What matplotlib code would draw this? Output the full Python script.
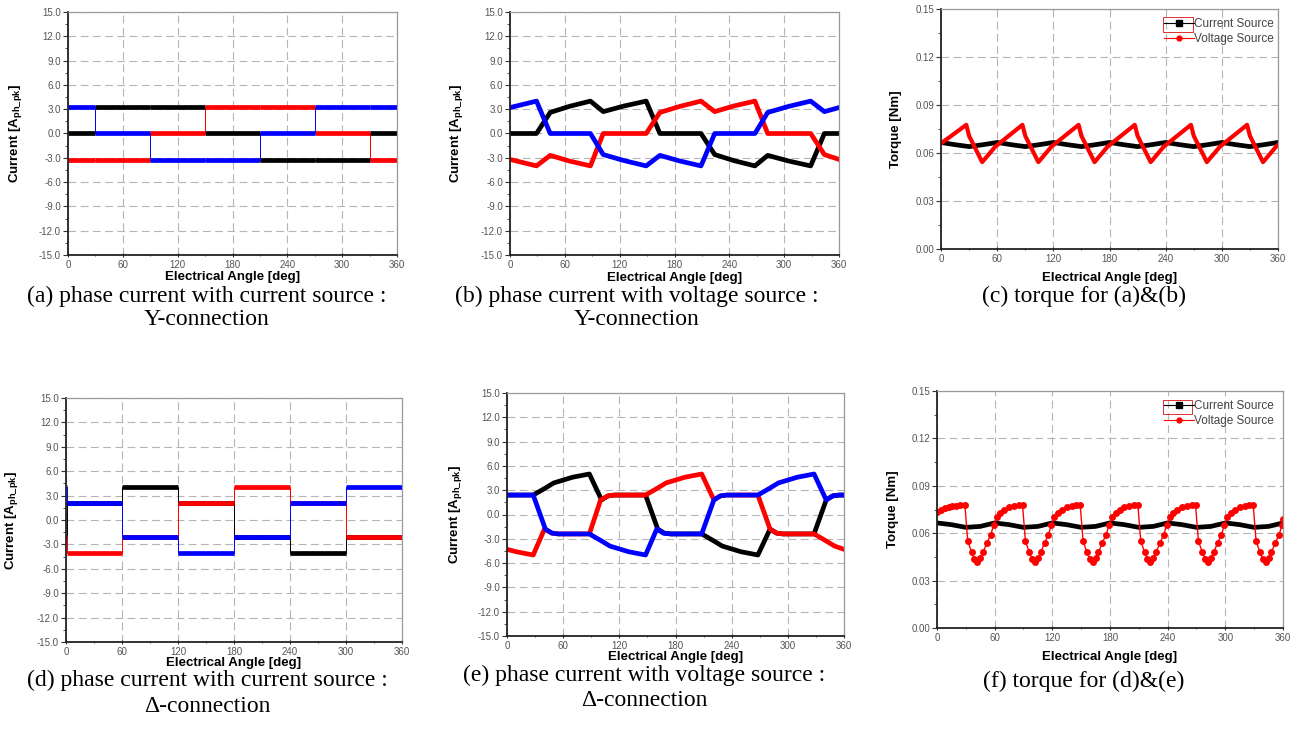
import matplotlib
matplotlib.use("Agg")
import matplotlib.pyplot as plt
from matplotlib.patches import Rectangle
from matplotlib.lines import Line2D
from matplotlib.ticker import MultipleLocator, FormatStrFormatter

plt.rcParams["font.family"] = ["Liberation Sans", "DejaVu Sans"]

BLACK = "#000000"
RED = "#ff0000"
BLUE = "#0000ff"

# (a) Y-connection, current source: square levels per interval
A_EDGES = [0, 30, 90, 150, 210, 270, 330, 360]
A_BLACK = [0.0, 3.3, 3.3, 0.0, -3.3, -3.3, 0.0]
A_BLUE = [3.3, 0.0, -3.3, -3.3, 0.0, 3.3, 3.3]
A_RED = [-3.3, -3.3, 0.0, 3.3, 3.3, 0.0, -3.3]

# (d) delta-connection, current source
D_EDGES = [0, 1.5, 60, 120, 180, 240, 300, 360]
D_BLACK = [-2.05, 2.05, 4.1, 2.05, -2.05, -4.1, -2.05]
D_RED = [-2.05, -4.1, -2.05, 2.05, 4.1, 2.05, -2.05]
D_BLUE = [4.1, 2.05, -2.05, -4.1, -2.05, 2.05, 4.1]

# (b) Y-connection, voltage source (waveform corners)
B_BLACK_DEG = [0, 29, 44, 65, 88, 102, 125, 149, 164, 209, 224, 245, 268, 282, 305, 329, 344, 360]
B_BLACK = [0.0, 0.0, 2.6, 3.35, 4.0, 2.7, 3.4, 4.0, 0.0, 0.0, -2.6, -3.35, -4.0, -2.7, -3.4, -4.0, 0.0, 0.0]
B_BLUE_DEG = [0, 29, 44, 88, 102, 125, 149, 164, 186, 209, 224, 268, 282, 305, 329, 344, 360]
B_BLUE = [3.2, 4.0, 0.0, 0.0, -2.6, -3.35, -4.0, -2.7, -3.4, -4.0, 0.0, 0.0, 2.6, 3.35, 4.0, 2.7, 3.2]
B_RED_DEG = [0, 29, 44, 65, 88, 102, 149, 164, 186, 209, 224, 245, 268, 282, 329, 344, 360]
B_RED = [-3.2, -4.0, -2.7, -3.4, -4.0, 0.0, 0.0, 2.6, 3.35, 4.0, 2.7, 3.4, 4.0, 0.0, 0.0, -2.6, -3.2]

# (e) delta-connection, voltage source (waveform corners)
E_BLACK_DEG = [0, 28, 40, 50, 70, 88, 101, 108, 115, 148, 161, 168, 175, 208,
               220, 230, 250, 268, 281, 288, 295, 328, 341, 348, 355, 360]
E_BLACK = [2.4, 2.4, 3.2, 3.9, 4.6, 5.0, 1.8, 2.3, 2.4, 2.4, -1.8, -2.3, -2.4, -2.4,
           -3.2, -3.9, -4.6, -5.0, -1.8, -2.3, -2.4, -2.4, 1.8, 2.3, 2.4, 2.4]
E_RED_DEG = [0, 10, 28, 40, 48, 55, 88, 100, 108, 115, 148, 160, 170, 190, 208,
             221, 228, 235, 268, 281, 288, 295, 328, 340, 350, 360]
E_RED = [-4.3, -4.6, -5.0, -1.8, -2.3, -2.4, -2.4, 1.8, 2.3, 2.4, 2.4, 3.2, 3.9, 4.6, 5.0,
         1.8, 2.3, 2.4, 2.4, -1.8, -2.3, -2.4, -2.4, -3.2, -3.9, -4.3]
E_BLUE_DEG = [0, 28, 41, 48, 55, 88, 100, 110, 130, 148, 160, 167, 175, 208,
              221, 228, 235, 268, 280, 290, 310, 328, 341, 348, 355, 360]
E_BLUE = [2.4, 2.4, -1.8, -2.3, -2.4, -2.4, -3.2, -3.9, -4.6, -5.0, -1.8, -2.3, -2.4, -2.4,
          1.8, 2.3, 2.4, 2.4, 3.2, 3.9, 4.6, 5.0, 1.8, 2.3, 2.4, 2.4]

# (c) torque for (a)&(b)
C_CUR_DEG = list(range(0, 361, 15))
C_CUR = [0.0666, 0.0652, 0.0640, 0.0652, 0.0666, 0.0652, 0.0640, 0.0652,
         0.0666, 0.0652, 0.0640, 0.0652, 0.0666, 0.0652, 0.0640, 0.0652,
         0.0666, 0.0652, 0.0640, 0.0652, 0.0666, 0.0652, 0.0640, 0.0652, 0.0666]
C_VOLT_DEG = [0, 27, 30, 44, 58, 87, 90, 104, 118, 147, 150, 164, 178, 207, 210,
              224, 238, 267, 270, 284, 298, 327, 330, 344, 358, 360]
C_VOLT = [0.0660, 0.0776, 0.0707, 0.0543, 0.0640, 0.0776, 0.0707, 0.0543, 0.0640,
          0.0776, 0.0707, 0.0543, 0.0640, 0.0776, 0.0707, 0.0543, 0.0640, 0.0776,
          0.0707, 0.0543, 0.0640, 0.0776, 0.0707, 0.0543, 0.0640, 0.0650]

# (f) torque for (d)&(e)
F_CUR_DEG = list(range(0, 361, 15))
F_CUR = [0.0665, 0.0654, 0.0637, 0.0643, 0.0665, 0.0654, 0.0637, 0.0643,
         0.0665, 0.0654, 0.0637, 0.0643, 0.0665, 0.0654, 0.0637, 0.0643,
         0.0665, 0.0654, 0.0637, 0.0643, 0.0665, 0.0654, 0.0637, 0.0643, 0.0665]
F_VOLT_DEG = [0, 4, 8, 12, 16, 20, 24, 29,
              32, 36, 39, 42, 45, 48, 52, 56, 59, 62, 66, 70, 75, 80, 85, 89,
              92, 96, 99, 102, 105, 108, 112, 116, 119, 122, 126, 130, 135, 140, 145, 149,
              152, 156, 159, 162, 165, 168, 172, 176, 179, 182, 186, 190, 195, 200, 205, 209,
              212, 216, 219, 222, 225, 228, 232, 236, 239, 242, 246, 250, 255, 260, 265, 269,
              272, 276, 279, 282, 285, 288, 292, 296, 299, 302, 306, 310, 315, 320, 325, 329,
              332, 336, 339, 342, 345, 348, 352, 356, 359, 360]
F_VOLT = [0.0735, 0.0750, 0.0760, 0.0766, 0.0771, 0.0775, 0.0777, 0.0778,
          0.0550, 0.0480, 0.0435, 0.0420, 0.0440, 0.0480, 0.0540, 0.0590,
          0.0655, 0.0700, 0.0730, 0.0750, 0.0765, 0.0772, 0.0777, 0.0778,
          0.0550, 0.0480, 0.0435, 0.0420, 0.0440, 0.0480, 0.0540, 0.0590,
          0.0655, 0.0700, 0.0730, 0.0750, 0.0765, 0.0772, 0.0777, 0.0778,
          0.0550, 0.0480, 0.0435, 0.0420, 0.0440, 0.0480, 0.0540, 0.0590,
          0.0655, 0.0700, 0.0730, 0.0750, 0.0765, 0.0772, 0.0777, 0.0778,
          0.0550, 0.0480, 0.0435, 0.0420, 0.0440, 0.0480, 0.0540, 0.0590,
          0.0655, 0.0700, 0.0730, 0.0750, 0.0765, 0.0772, 0.0777, 0.0778,
          0.0550, 0.0480, 0.0435, 0.0420, 0.0440, 0.0480, 0.0540, 0.0590,
          0.0655, 0.0700, 0.0730, 0.0750, 0.0765, 0.0772, 0.0777, 0.0778,
          0.0550, 0.0480, 0.0435, 0.0420, 0.0440, 0.0480, 0.0540, 0.0590,
          0.0655, 0.0690]

CAPTIONS = [
    ("(a) phase current with current source :", "Y-connection"),
    ("(b) phase current with voltage source :", "Y-connection"),
    ("(c) torque for (a)&(b)", None),
    ("(d) phase current with current source :", "\u0394-connection"),
    ("(e) phase current with voltage source :", "\u0394-connection"),
    ("(f) torque for (d)&(e)", None),
]

W, H = 1300, 748
fig = plt.figure(figsize=(W / 100, H / 100), dpi=100)


def add_ax(left, right, top, bottom):
    return fig.add_axes([left / W, 1 - bottom / H, (right - left) / W, (bottom - top) / H])


def style(ax, current, ylab_x, xlab_y):
    ax.set_xlim(0, 360)
    ax.set_xticks(range(0, 361, 60))
    ax.xaxis.set_minor_locator(MultipleLocator(30))
    if current:
        ax.set_ylim(-15, 15)
        ax.yaxis.set_major_locator(MultipleLocator(3))
        ax.yaxis.set_minor_locator(MultipleLocator(1.5))
        ax.yaxis.set_major_formatter(FormatStrFormatter("%.1f"))
        ax.set_ylabel(r"Current [A$_{\mathregular{ph\_pk}}$]", fontsize=9.5, fontweight="bold")
    else:
        ax.set_ylim(0, 0.15)
        ax.yaxis.set_major_locator(MultipleLocator(0.03))
        ax.yaxis.set_minor_locator(MultipleLocator(0.015))
        ax.yaxis.set_major_formatter(FormatStrFormatter("%.2f"))
        ax.set_ylabel("Torque [Nm]", fontsize=9.5, fontweight="bold")
    ax.set_xlabel("Electrical Angle [deg]", fontsize=9.5, fontweight="bold")
    ax.yaxis.set_label_coords(ylab_x, 0.5)
    ax.xaxis.set_label_coords(0.5, xlab_y)
    ax.set_axisbelow(True)
    ax.grid(True, which="major", color="#b5b5b5", linestyle=(0, (7, 4)), linewidth=0.8)
    for side in ("left", "bottom"):
        ax.spines[side].set_color("#222222")
        ax.spines[side].set_linewidth(1.3)
    for side in ("top", "right"):
        ax.spines[side].set_color("#9a9a9a")
        ax.spines[side].set_linewidth(0.9)
    ax.tick_params(axis="y", which="both", direction="out", labelsize=7,
                   labelcolor="#555555", color="#333333", pad=1.5)
    ax.tick_params(axis="x", which="both", direction="inout", labelsize=7,
                   labelcolor="#555555", color="#333333", pad=1.5)
    ax.tick_params(which="major", length=3.5)
    ax.tick_params(which="minor", length=2)


def step_phase(ax, edges, levels, color):
    ax.stairs(levels, edges, color=color, linewidth=0.7, baseline=None)
    ax.hlines(levels, edges[:-1], edges[1:], colors=color, linewidth=3.4)


def torque_legend(ax, anchor_x, rect):
    handles = [
        Line2D([], [], color=BLACK, linewidth=0.8, marker="s", markersize=4),
        Line2D([], [], color=RED, linewidth=0.8, marker="o", markersize=3.5),
    ]
    ax.legend(handles, ["Current Source", "Voltage Source"], loc="upper right",
              bbox_to_anchor=(anchor_x, 1.0), frameon=False, fontsize=8.5,
              handlelength=2.6, handletextpad=0.0, labelspacing=0.3,
              borderaxespad=0.35, labelcolor="#444444")
    ax.add_patch(Rectangle(rect[:2], rect[2], rect[3], transform=ax.transAxes,
                           fill=False, edgecolor="#e03030", linewidth=0.7))


# (a)
ax = add_ax(68, 397, 12, 255)
step_phase(ax, A_EDGES, A_BLACK, BLACK)
step_phase(ax, A_EDGES, A_RED, RED)
step_phase(ax, A_EDGES, A_BLUE, BLUE)
style(ax, True, -0.135, -0.066)

# (b)
ax = add_ax(510, 839, 12, 255)
ax.plot(B_BLACK_DEG, B_BLACK, color=BLACK, linewidth=3.4)
ax.plot(B_RED_DEG, B_RED, color=RED, linewidth=3.4)
ax.plot(B_BLUE_DEG, B_BLUE, color=BLUE, linewidth=3.4)
style(ax, True, -0.138, -0.070)

# (c)
ax = add_ax(941, 1278, 9, 249)
ax.plot(C_CUR_DEG, C_CUR, color=BLACK, linewidth=3.4)
ax.plot(C_VOLT_DEG, C_VOLT, color=RED, linewidth=3.0)
style(ax, False, -0.117, -0.096)
torque_legend(ax, 1.015, (0.659, 0.905, 0.089, 0.0625))

# (d)
ax = add_ax(66, 402, 398, 642)
step_phase(ax, D_EDGES, D_BLACK, BLACK)
step_phase(ax, D_EDGES, D_RED, RED)
step_phase(ax, D_EDGES, D_BLUE, BLUE)
style(ax, True, -0.138, -0.061)

# (e)
ax = add_ax(507, 844, 393, 636)
ax.plot(E_BLACK_DEG, E_BLACK, color=BLACK, linewidth=3.4)
ax.plot(E_RED_DEG, E_RED, color=RED, linewidth=3.4)
ax.plot(E_BLUE_DEG, E_BLUE, color=BLUE, linewidth=3.4)
style(ax, True, -0.129, -0.062)

# (f)
ax = add_ax(937, 1283, 391, 628)
ax.plot(F_CUR_DEG, F_CUR, color=BLACK, linewidth=3.4)
ax.plot(F_VOLT_DEG, F_VOLT, color=RED, linewidth=1.0, marker="o", markersize=5,
        markeredgewidth=0)
style(ax, False, -0.111, -0.097)
torque_legend(ax, 1.0, (0.653, 0.905, 0.084, 0.059))

# captions
cap_pos = [(207, 296, 319), (637, 296, 319), (1084, 296, None),
           (207, 680, 706), (644, 675, 700), (1084, 681, None)]
for (line1, line2), (cx, y1, y2) in zip(CAPTIONS, cap_pos):
    fig.text(cx / W, 1 - y1 / H, line1, ha="center", va="center",
             family="Liberation Serif", fontsize=17)
    if line2:
        fig.text(cx / W, 1 - y2 / H, line2, ha="center", va="center",
                 family="Liberation Serif", fontsize=17)

fig.savefig("out.png", dpi=100)
